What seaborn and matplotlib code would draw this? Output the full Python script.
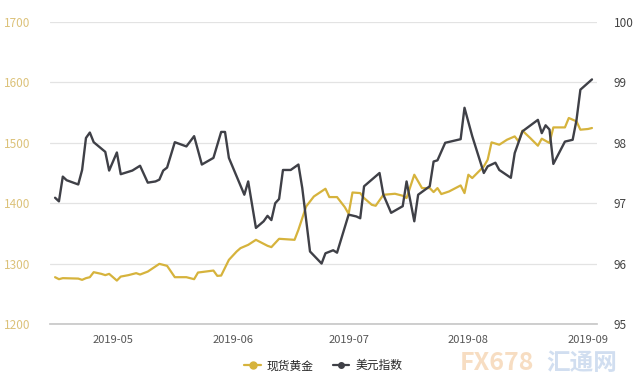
import matplotlib
matplotlib.use("Agg")
import matplotlib.pyplot as plt
import matplotlib.dates as mdates
from matplotlib.lines import Line2D
import pandas as pd
import seaborn as sns

gold_dates = ["2019-04-16","2019-04-17","2019-04-18","2019-04-22","2019-04-23","2019-04-24","2019-04-25",
              "2019-04-26","2019-04-28","2019-04-29","2019-04-30","2019-05-02","2019-05-03","2019-05-05",
              "2019-05-07","2019-05-08","2019-05-10","2019-05-13","2019-05-15","2019-05-17","2019-05-20",
              "2019-05-22","2019-05-23","2019-05-27","2019-05-28","2019-05-29","2019-05-31","2019-06-02",
              "2019-06-03","2019-06-05","2019-06-07","2019-06-10","2019-06-11","2019-06-13","2019-06-17",
              "2019-06-18","2019-06-20","2019-06-22","2019-06-25","2019-06-26","2019-06-28","2019-06-30",
              "2019-07-01","2019-07-02","2019-07-04","2019-07-05","2019-07-07","2019-07-08","2019-07-10",
              "2019-07-13","2019-07-15","2019-07-16","2019-07-18","2019-07-20","2019-07-22","2019-07-23",
              "2019-07-24","2019-07-25","2019-07-27","2019-07-30","2019-07-31","2019-08-01","2019-08-02",
              "2019-08-05","2019-08-06","2019-08-07","2019-08-09","2019-08-11","2019-08-13","2019-08-14",
              "2019-08-15","2019-08-17","2019-08-19","2019-08-20","2019-08-22","2019-08-23","2019-08-26",
              "2019-08-27","2019-08-29","2019-08-30","2019-09-01","2019-09-02"]
gold_values = [1277.4,1274.1,1275.8,1275.1,1273.0,1275.8,1277.4,
               1285.7,1282.9,1280.8,1282.9,1271.8,1278.4,1280.8,
               1284.1,1281.8,1286.7,1299.5,1296.2,1277.4,1277.4,
               1274.1,1285.1,1288.4,1279.6,1280.1,1306.1,1319.9,
               1325.5,1331.0,1339.3,1329.4,1327.2,1341.0,1339.3,
               1355.9,1394.5,1411.1,1423.9,1410.1,1410.1,1393.5,
               1382.4,1417.7,1416.7,1408.5,1397.3,1395.7,1413.9,
               1415.6,1412.3,1408.5,1447.1,1425.0,1425.0,1418.4,
               1425.0,1415.1,1419.4,1429.4,1416.7,1447.1,1441.6,
               1460.9,1472.0,1500.7,1496.8,1505.1,1510.6,1502.3,
               1520.1,1508.0,1495.2,1506.8,1499.7,1525.5,1525.5,
               1541.1,1535.5,1521.7,1522.9,1524.5]

usd_dates = ["2019-04-16","2019-04-17","2019-04-18","2019-04-19","2019-04-22","2019-04-23","2019-04-24",
             "2019-04-25","2019-04-26","2019-04-29","2019-04-30","2019-05-02","2019-05-03","2019-05-06",
             "2019-05-08","2019-05-10","2019-05-12","2019-05-13","2019-05-14","2019-05-15","2019-05-17",
             "2019-05-20","2019-05-22","2019-05-24","2019-05-27","2019-05-29","2019-05-30","2019-05-31",
             "2019-06-04","2019-06-05","2019-06-07","2019-06-09","2019-06-10","2019-06-11","2019-06-12",
             "2019-06-13","2019-06-14","2019-06-16","2019-06-18","2019-06-19","2019-06-21","2019-06-24",
             "2019-06-25","2019-06-27","2019-06-28","2019-07-01","2019-07-03","2019-07-04","2019-07-05",
             "2019-07-07","2019-07-09","2019-07-10","2019-07-12","2019-07-15","2019-07-16","2019-07-18",
             "2019-07-19","2019-07-22","2019-07-23","2019-07-24","2019-07-26","2019-07-30","2019-07-31",
             "2019-08-02","2019-08-05","2019-08-06","2019-08-08","2019-08-09","2019-08-12","2019-08-13",
             "2019-08-15","2019-08-19","2019-08-20","2019-08-21","2019-08-22","2019-08-23","2019-08-26",
             "2019-08-28","2019-08-29","2019-08-30","2019-09-02"]
usd_values = [97.09,97.03,97.44,97.38,97.31,97.55,98.08,
              98.17,98.01,97.85,97.54,97.84,97.48,97.54,
              97.62,97.34,97.36,97.39,97.54,97.59,98.01,
              97.94,98.11,97.64,97.75,98.18,98.18,97.75,
              97.14,97.36,96.59,96.70,96.79,96.72,97.00,
              97.07,97.55,97.55,97.64,97.25,96.20,96.00,
              96.17,96.22,96.18,96.81,96.78,96.75,97.28,
              97.39,97.50,97.14,96.84,96.95,97.36,96.70,
              97.14,97.28,97.69,97.71,98.00,98.06,98.58,
              98.11,97.50,97.61,97.67,97.55,97.42,97.83,
              98.19,98.38,98.16,98.29,98.22,97.65,98.02,
              98.05,98.38,98.88,99.05]

series_names = ["现货黄金", "美元指数"]
left_ticks = [1200, 1300, 1400, 1500, 1600, 1700]
right_ticks = [95, 96, 97, 98, 99, 100]
month_ticks = ["2019-05-01", "2019-06-01", "2019-07-01", "2019-08-01", "2019-09-01"]

GOLD = "#d6b33c"
DARK = "#3f4047"

sns.set_theme(style="white")
plt.rcParams["font.family"] = ["Noto Sans CJK SC", "DejaVu Sans"]

gold_df = pd.DataFrame({"date": pd.to_datetime(gold_dates), "value": gold_values})
usd_df = pd.DataFrame({"date": pd.to_datetime(usd_dates), "value": usd_values})

fig = plt.figure(figsize=(6.4, 3.87), dpi=100)
ax = fig.add_axes([0.078, 0.163, 0.855, 0.78])
ax2 = ax.twinx()

sns.lineplot(data=gold_df, x="date", y="value", ax=ax, color=GOLD, linewidth=1.6)
sns.lineplot(data=usd_df, x="date", y="value", ax=ax2, color=DARK, linewidth=1.7)

ax.set_xlim(pd.Timestamp("2019-04-14 16:00"), pd.Timestamp("2019-09-03 08:00"))
ax.set_ylim(1200, 1700)
ax2.set_ylim(95, 100)
ax.set_yticks(left_ticks)
ax2.set_yticks(right_ticks)
ax.set_xticks(pd.to_datetime(month_ticks))
ax.xaxis.set_major_formatter(mdates.DateFormatter("%Y-%m"))

ax.grid(axis="y", color="#e3e3e3", linewidth=0.9)
ax.grid(axis="x", visible=False)
ax2.grid(False)
for a in (ax, ax2):
    for s in ("top", "right", "left", "bottom"):
        a.spines[s].set_visible(False)
ax.spines["bottom"].set_visible(True)
ax.spines["bottom"].set_color("#c8c8c8")
ax.set_xlabel("")
ax.set_ylabel("")
ax2.set_ylabel("")

ax.tick_params(axis="x", colors="#c8c8c8", length=5, width=0.8, labelsize=8, labelcolor="#555555", pad=3)
ax.tick_params(axis="y", length=0, labelsize=8.5, labelcolor="#dcc27a", pad=14)
ax2.tick_params(axis="y", length=0, labelsize=8.5, labelcolor="#444444", pad=12)

handles = [Line2D([0], [0], color=GOLD, lw=1.6, marker="o", markersize=5),
           Line2D([0], [0], color=DARK, lw=1.6, marker="o", markersize=4)]
fig.legend(handles, series_names, loc="center", bbox_to_anchor=(0.505, 0.055), ncol=2,
           frameon=False, fontsize=8.5, handlelength=1.4, columnspacing=1.6, handletextpad=0.5)

fig.text(0.776, 0.062, "FX678", fontsize=18, color="#f6d8b8", fontweight="bold", ha="center", va="center", alpha=0.85)
fig.text(0.909, 0.062, "汇通网", fontsize=17, color="#c9d9ee", fontweight="bold", ha="center", va="center", alpha=0.85)

fig.savefig("out.png", dpi=100)
